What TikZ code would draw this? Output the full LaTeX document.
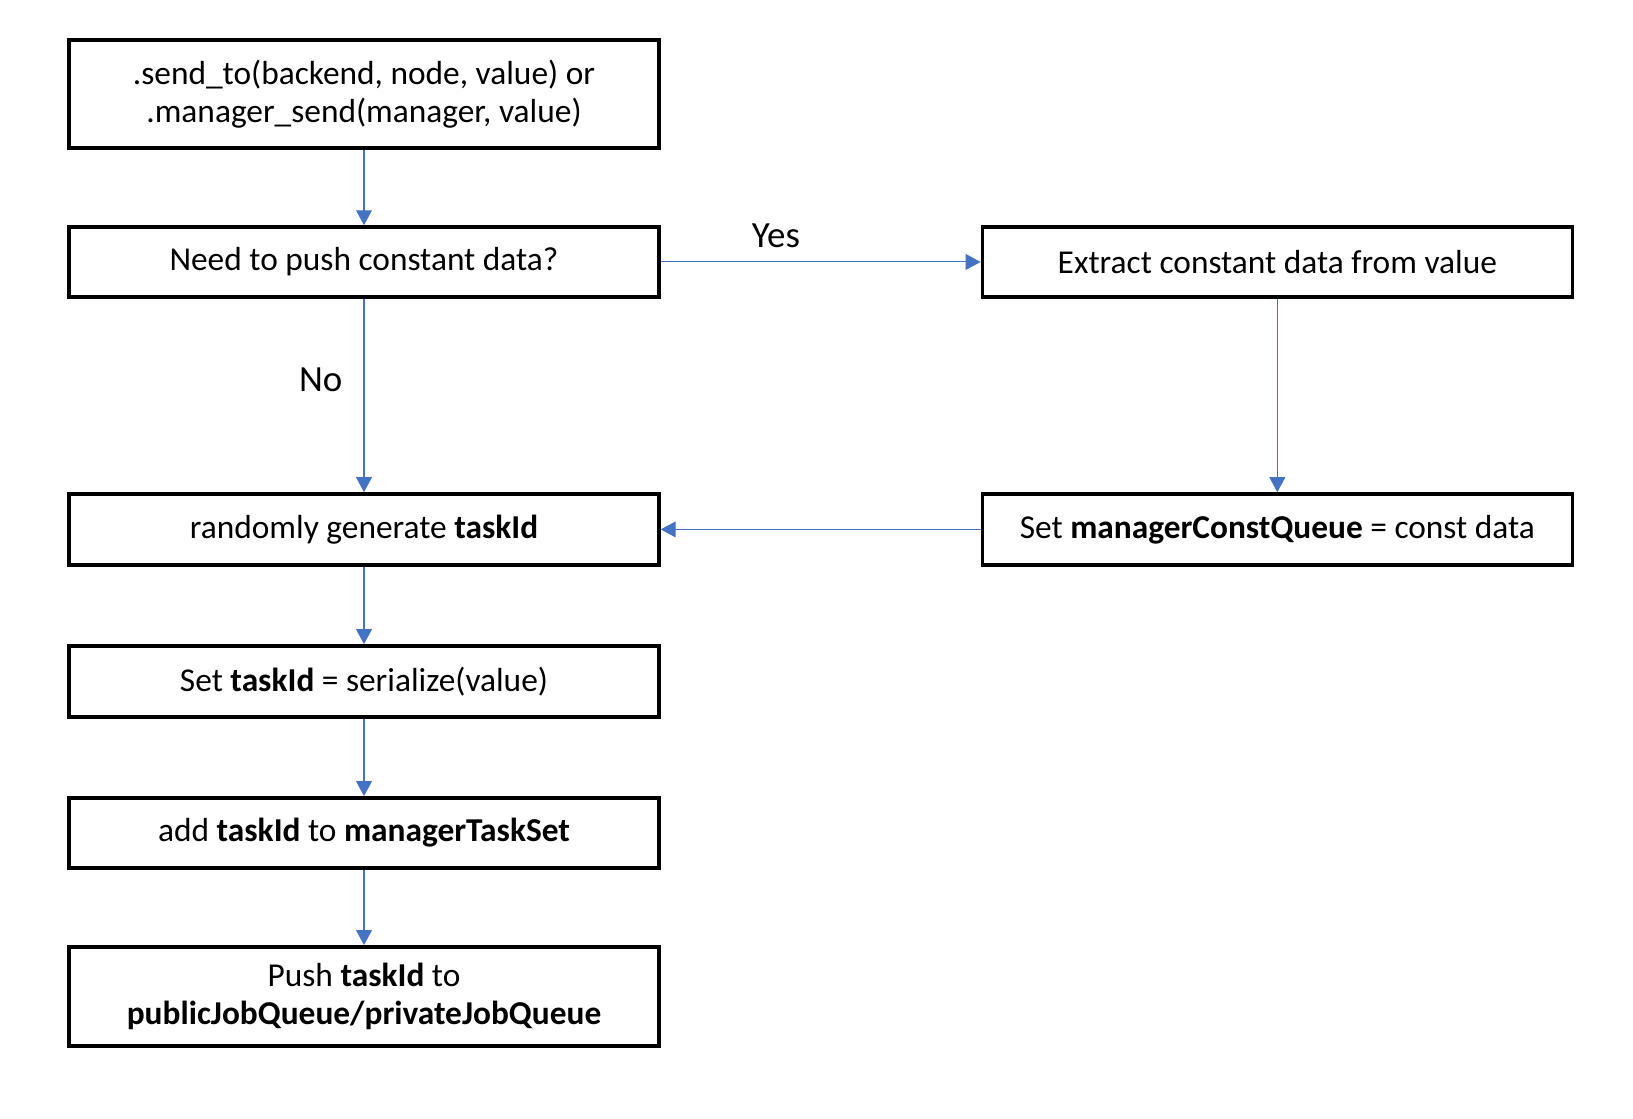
\documentclass[tikz,border=0pt]{standalone}
\usepackage{fontspec}
\setmainfont{Carlito}
\usetikzlibrary{positioning, arrows.meta}
\definecolor{flowblue}{RGB}{68,114,196}

\begin{document}
\begin{tikzpicture}[x=0.02cm, y=-0.02cm, on grid, auto]
        \tikzset{
            box/.style={draw, line width=2pt, minimum width=11.8cm, minimum height=1.4cm,
                align=center, inner sep=0pt, font=\fontsize{19}{22}\selectfont},
            flow/.style={color=flowblue, line width=0.6pt, -{Triangle[length=8.5pt, width=9pt]}},
            lbl/.style={font=\fontsize{21}{25}\selectfont, text=black}
        }
        \useasboundingbox (0,0) rectangle (1633,1119);

        % Cajas
        \node[box, minimum height=2.16cm] (send) at (364,94) {.send\_to(backend, node, value) or\\.manager\_send(manager, value)};
        \node[box] (need) [below=3.36cm of send] {Need to push constant data?};
        \node[box, minimum height=1.42cm] (gen) [below=5.35cm of need] {randomly generate \textbf{taskId}};
        \node[box, minimum height=1.42cm] (ser) [below=3.04cm of gen] {Set \textbf{taskId} = serialize(value)};
        \node[box] (add) [below=3.03cm of ser] {add \textbf{taskId} to \textbf{managerTaskSet}};
        \node[box, minimum height=1.98cm] (push) [below=3.27cm of add] {Push \textbf{taskId} to\\\textbf{publicJobQueue/privateJobQueue}};
        \node[box] (extract) [right=18.27cm of need] {Extract constant data from value};
        \node[box, minimum height=1.42cm] (setq) [below=5.35cm of extract] {Set \textbf{managerConstQueue} = const data};

        % Flechas
        \path[flow]
            (send) edge (need)
            (need) edge node[lbl, pos=0.36, inner sep=8pt] {Yes} (extract)
            (need) edge node[lbl, pos=0.42, swap, inner sep=12pt] {No} (gen)
            (extract) edge (setq)
            (setq) edge (gen)
            (gen) edge (ser)
            (ser) edge (add)
            (add) edge (push);
    \end{tikzpicture}
\end{document}
